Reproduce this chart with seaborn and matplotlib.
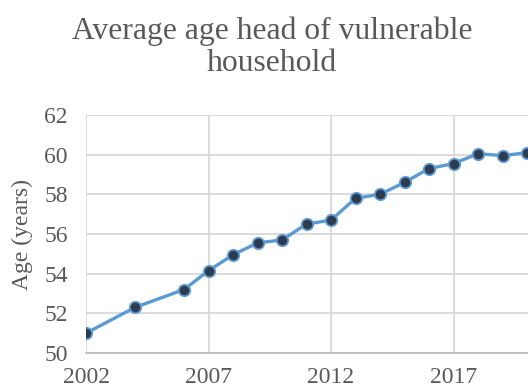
import matplotlib
matplotlib.use("Agg")
import matplotlib.pyplot as plt
import seaborn as sns
import pandas as pd

# values
years = [2002, 2004, 2006, 2007, 2008, 2009, 2010, 2011, 2012,
         2013, 2014, 2015, 2016, 2017, 2018, 2019, 2020]
ages = [51.0, 52.3, 53.2, 54.15, 54.95, 55.55, 55.7, 56.5, 56.7,
        57.8, 58.0, 58.6, 59.3, 59.55, 60.05, 59.95, 60.1]
x_ticks = [2002, 2007, 2012, 2017]
y_ticks = [50, 52, 54, 56, 58, 60, 62]

df = pd.DataFrame({"year": years, "age": ages})

sns.set_style("white")
plt.rcParams["font.family"] = ["Liberation Serif", "DejaVu Serif"]

grey_text = "#595959"
grid_col = "#d9d9d9"

fig = plt.figure(figsize=(5.28, 3.91), dpi=100)
# axes reaches past the right edge, like the cropped original
ax = fig.add_axes([86 / 528, 1 - 353 / 391, 465.5 / 528, 238 / 391])

sns.lineplot(data=df, x="year", y="age", ax=ax, color="#5B9BD5", linewidth=2.4,
             marker="o", markersize=8.2, markerfacecolor="#2F3B4F",
             markeredgecolor="#5B9BD5", markeredgewidth=1.3, zorder=3)

ax.set_xlim(2002, 2021)
ax.set_ylim(50, 62)
ax.set_xticks(x_ticks)
ax.set_yticks(y_ticks)
ax.grid(True, color=grid_col, linewidth=1.3)
ax.set_axisbelow(True)

for side in ["top", "right", "left"]:
    ax.spines[side].set_visible(False)
ax.spines["bottom"].set_color("#bfbfbf")
ax.spines["bottom"].set_linewidth(1.3)

ax.tick_params(axis="y", length=0, pad=13, labelsize=17, labelcolor=grey_text)
ax.tick_params(axis="x", length=0, pad=10, labelsize=17, labelcolor=grey_text)

ax.set_xlabel("")
ax.set_ylabel("Age (years)", fontsize=17, color=grey_text, labelpad=8)

fig.text(0.515, 0.88, "Average age head of vulnerable\nhousehold", ha="center",
         va="center", fontsize=22.8, color=grey_text, linespacing=1.15)

fig.savefig("out.png", dpi=100)
